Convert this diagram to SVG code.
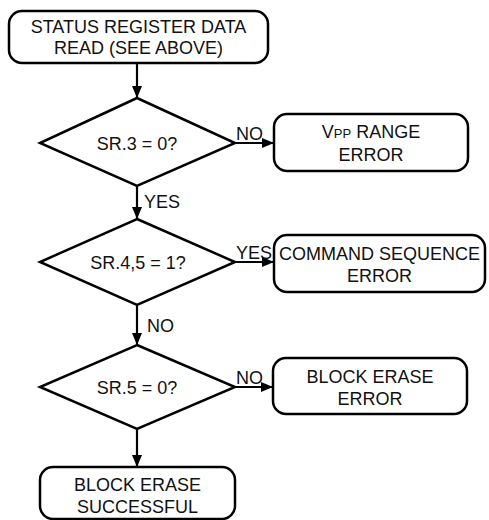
<svg xmlns="http://www.w3.org/2000/svg" width="489" height="520" viewBox="0 0 489 520">
<defs>
<style>
.box{fill:#fff;stroke:#000;stroke-width:2.5}
.dia{fill:#fff;stroke:#000;stroke-width:2.5;stroke-linejoin:miter}
.t{font-family:"Liberation Sans",Arial,sans-serif;font-size:18px;fill:#111;text-anchor:middle}
.l{font-family:"Liberation Sans",Arial,sans-serif;font-size:18px;fill:#111}
.c{stroke:#000;stroke-width:2.2;fill:none}
</style>
<marker id="ah" viewBox="0 0 12 10" refX="12" refY="5" markerWidth="12" markerHeight="10" markerUnits="userSpaceOnUse" orient="auto">
<path d="M0,0 L12,5 L0,10 Z" fill="#000"/>
</marker>
</defs>
<g id="connectors">
<line class="c" x1="137" y1="63" x2="137" y2="98" marker-end="url(#ah)"/>
<line class="c" x1="235" y1="143" x2="274" y2="143" marker-end="url(#ah)"/>
<line class="c" x1="137" y1="186" x2="137" y2="219" marker-end="url(#ah)"/>
<line class="c" x1="235" y1="262" x2="274" y2="262" marker-end="url(#ah)"/>
<line class="c" x1="137" y1="305" x2="137" y2="345" marker-end="url(#ah)"/>
<line class="c" x1="235" y1="387" x2="273" y2="387" marker-end="url(#ah)"/>
<line class="c" x1="137" y1="429" x2="137" y2="467" marker-end="url(#ah)"/>
<text class="l" x="236" y="140">NO</text>
<text class="l" x="144" y="208">YES</text>
<text class="l" x="236" y="259">YES</text>
<text class="l" x="147" y="332">NO</text>
<text class="l" x="236" y="384">NO</text>
</g>
<g id="start">
<rect class="box" x="9" y="11" width="259" height="52" rx="13"/>
<text class="t" x="138.5" y="33">STATUS REGISTER DATA</text>
<text class="t" x="138.5" y="54">READ (SEE ABOVE)</text>
</g>
<g id="d1">
<polygon class="dia" points="137,98 235,143 137,186 40,143"/>
<text class="t" x="137" y="150">SR.3 = 0?</text>
</g>
<g id="vpp">
<rect class="box" x="274" y="114" width="194" height="57" rx="13"/>
<text class="t" x="371" y="138">V<tspan font-size="13">PP</tspan> RANGE</text>
<text class="t" x="371" y="161">ERROR</text>
</g>
<g id="d2">
<polygon class="dia" points="137,219 235,262 137,305 40,262"/>
<text class="t" x="138" y="269">SR.4,5 = 1?</text>
</g>
<g id="cmd">
<rect class="box" x="274" y="235" width="211" height="57" rx="13"/>
<text class="t" x="379.5" y="260">COMMAND SEQUENCE</text>
<text class="t" x="379.5" y="282">ERROR</text>
</g>
<g id="d3">
<polygon class="dia" points="137,345 235,387 137,429 40,387"/>
<text class="t" x="137" y="394">SR.5 = 0?</text>
</g>
<g id="berr">
<rect class="box" x="273" y="358" width="194" height="56" rx="13"/>
<text class="t" x="370" y="383">BLOCK ERASE</text>
<text class="t" x="370" y="405">ERROR</text>
</g>
<g id="success">
<rect class="box" x="40" y="467" width="195" height="52" rx="13"/>
<text class="t" x="137.5" y="491">BLOCK ERASE</text>
<text class="t" x="137.5" y="513">SUCCESSFUL</text>
</g>
</svg>
